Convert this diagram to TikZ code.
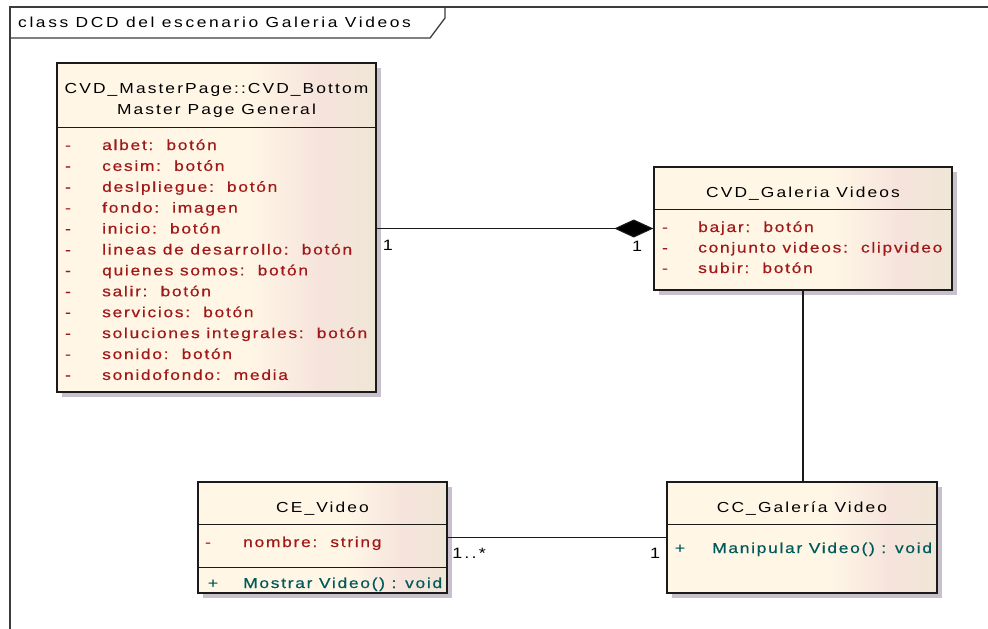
\documentclass[tikz,border=0pt]{standalone}
\usepackage{fontspec}
\setmainfont{Liberation Sans}[FakeStretch=1.2,LetterSpace=14.4]
\newfontfamily\attrfont{Liberation Sans}[FakeStretch=1.2,LetterSpace=11.8,FakeBold=0.5]
\usetikzlibrary{arrows.meta,shadows}

\definecolor{attr}{HTML}{A01818}
\definecolor{oper}{HTML}{005A5A}
\definecolor{shadowc}{HTML}{C9C0CE}
\definecolor{edge}{HTML}{1A1A1A}
\definecolor{creamA}{HTML}{FFF6E6}
\definecolor{pinkB}{HTML}{F6E4DC}
\definecolor{creamC}{HTML}{EFE6D6}
\definecolor{tanD}{HTML}{E6DCCA}

\pgfdeclarehorizontalshading{umlfill}{100bp}{color(0bp)=(creamA); color(55bp)=(creamA); color(66bp)=(pinkB); color(76bp)=(creamC); color(100bp)=(tanD)}

\tikzset{
  umlbox/.style={draw=edge, line width=1.4pt, shading=umlfill, inner sep=0pt,
    general shadow={fill=shadowc, shadow xshift=5pt, shadow yshift=-5pt}},
  sepline/.style={draw=edge, line width=0.9pt},
  title/.style={anchor=base, inner sep=0pt, text=black},
  attrtxt/.style={anchor=base west, inner sep=0pt, text=attr, font=\attrfont\fontsize{14.5}{17}\selectfont},
  optxt/.style={anchor=base west, inner sep=0pt, text=oper, font=\attrfont\fontsize{14.5}{17}\selectfont},
  vismark/.style={anchor=base, inner sep=0pt, font=\attrfont\fontsize{14.5}{17}\selectfont},
  conn/.style={draw=edge, line width=1.1pt},
  mult/.style={anchor=center, inner sep=0pt, text=black, font=\fontsize{15}{17}\selectfont},
  frameline/.style={draw=edge!85, line width=1.3pt},
}

\begin{document}
\begin{tikzpicture}[x=1pt, y=-1pt, font=\fontsize{14.5}{17}\selectfont]
\useasboundingbox (0,0) rectangle (988,629);

% diagram frame and its name tab
\draw[frameline] (10,629) -- (10,7) -- (988,7);
\draw[frameline] (10,38) -- (430,38) -- (445,18) -- (445,7);
\node[anchor=base west, inner sep=0pt] (frametitle) at (18,27.5)
  {\addfontfeature{LetterSpace=18}class DCD del escenario Galeria Videos};

% class boxes
\node[umlbox, minimum width=319pt, minimum height=329pt] (m) at (216.5,227.5) {};
\node[umlbox, minimum width=298pt, minimum height=123pt] (g) at (803,228.5) {};
\node[umlbox, minimum width=249pt, minimum height=111pt] (v) at (322.5,537.5) {};
\node[umlbox, minimum width=270pt, minimum height=111pt] (cc) at (802,537.5) {};

% compartment separators
\draw[sepline] ([yshift=-65pt]m.north west) -- ([yshift=-65pt]m.north east);
\draw[sepline] ([yshift=-43pt]g.north west) -- ([yshift=-43pt]g.north east);
\draw[sepline] ([yshift=-43pt]v.north west) -- ([yshift=-43pt]v.north east);
\draw[sepline] ([yshift=-86pt]v.north west) -- ([yshift=-86pt]v.north east);
\draw[sepline] ([yshift=-43pt]cc.north west) -- ([yshift=-43pt]cc.north east);

% CVD_MasterPage::CVD_Bottom Master Page General
\node[title] (mt1) at (216.5,93) {CVD\_MasterPage::CVD\_Bottom};
\node[title] (mt2) at (216.5,114) {Master Page General};
\foreach \txt [count=\i from 0] in {albet:~~botón, cesim:~~botón, deslpliegue:~~botón,
    fondo:~~imagen, inicio:~~botón, lineas de desarrollo:~~botón, quienes somos:~~botón,
    salir:~~botón, servicios:~~botón, soluciones integrales:~~botón, sonido:~~botón,
    sonidofondo:~~media} {
  \node[vismark, text=attr] (md\i) at (68,150+20.9*\i) {-};
  \node[attrtxt] (ma\i) at (102,150+20.9*\i) {\txt};
}

% CVD_Galeria Videos
\node[title] (gt) at (803,197) {CVD\_Galeria Videos};
\foreach \txt [count=\i from 0] in {bajar:~~botón, conjunto videos:~~clipvideo, subir:~~botón} {
  \node[vismark, text=attr] (gd\i) at (665,232+20.5*\i) {-};
  \node[attrtxt] (ga\i) at (698,232+20.5*\i) {\txt};
}

% CE_Video
\node[title] (vt) at (322.5,512) {CE\_Video};
\node[vismark, text=attr] (vd) at (208,547) {-};
\node[attrtxt] (va) at (243,547) {nombre:~~string};
\node[vismark, text=oper] (vp) at (213,588) {+};
\node[optxt] (vo) at (243,588) {Mostrar Video() : void};

% CC_Galería Video
\node[title] (cct) at (802,512) {CC\_Galería Video};
\node[vismark, text=oper] (ccp) at (680,553) {+};
\node[optxt] (cco) at (712,553) {Manipular Video() : void};

% associations
\draw[conn, -{Diamond[length=39pt, width=18pt, fill=black]}] (m.east |- g.west) -- (g.west);
\draw[conn] (g.south) -- (g.south |- cc.north);
\draw[conn] (v.east) -- (cc.west);

% multiplicities
\node[mult] (m1) at (388,245) {1};
\node[mult] (m2) at (637,246) {1};
\node[mult] (m3) at (469,553) {1..*};
\node[mult] (m4) at (655,553) {1};
\end{tikzpicture}
\end{document}
